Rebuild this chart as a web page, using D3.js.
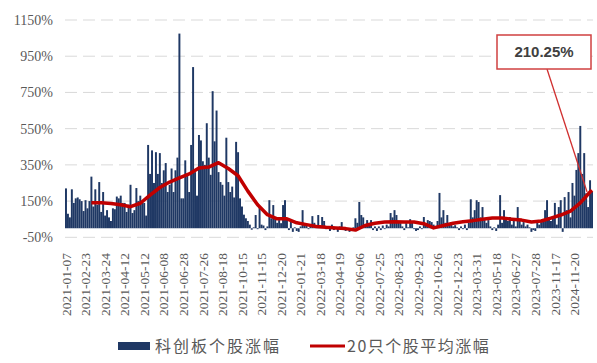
<!DOCTYPE html>
<html>
<head>
<meta charset="utf-8">
<script src="https://cdn.jsdelivr.net/npm/d3@7"></script>
<style>
  body { margin: 0; padding: 0; background: #fff; }
  svg { display: block; }
</style>
</head>
<body>
<script>
// 科创板个股涨幅（%），按上市日期排序
var stockGain = [
    220, 80, 60, 215, 140, 165, 170, 160, 150, 95,
    155, 110, 150, 285, 120, 215, 130, 255, 90, 200,
    70, 100, 60, 40, 110, 105, 175, 165, 180, 140,
    140, 90, 130, 240, 84, 100, 222, 150, 180, 140,
    140, 70, 460, 300, 430, 250, 420, 300, 415, 250,
    320, 360, 200, 240, 330, 200, 320, 390, 1075, 165,
    165, 375, 300, 200, 460, 890, 310, 180, 515, 485,
    370, 350, 580, 390, 295, 757, 480, 650, 310, 255,
    240, 180, 500, 255, 200, 230, 170, 477, 420, 165,
    120, 75, 55, 40, 20, -8, 5, 73, -5, 115,
    20, 15, -10, 10, 155, 55, 128, 55, 30, 45,
    28, 128, 155, 55, -10, 40, -20, 5, -15, -20,
    10, 100, 28, 20, -5, 10, 67, 30, 5, 73,
    15, 62, 40, -5, 10, -15, 20, -10, 5, -20,
    10, 34, -10, -15, -5, -20, -10, 5, 55, 30,
    145, 73, 60, 20, 45, 30, 45, -10, 10, -15,
    10, -10, 15, -5, 20, 10, 84, 60, 100, 73,
    40, 28, 10, -10, 28, 5, 50, 30, -5, -15,
    -10, 10, -5, 62, 20, 45, 40, 34, 20, 5,
    40, 195, 60, 100, 30, 73, 20, 34, 10, 17,
    5, -10, 10, -5, 20, -10, 30, 160, 60, 100,
    155, 145, 60, 117, 45, 30, 45, 10, -10, 5,
    -15, 20, 183, 30, 100, 62, 40, 62, 20, 45,
    10, 117, 40, 20, 34, 10, 20, 5, -20, -10,
    -15, 34, 20, 34, 50, 100, 155, 62, 40, 62,
    140, 20, 117, 155, -20, 172, 100, 200, 60, 250,
    180, 322, 415, 565, 300, 415, 193, 117, 265, 200
];

// x轴标签（每10只个股一个）
var dateLabels = [
    "2021-01-07", "2021-02-23", "2021-03-24", "2021-04-12", "2021-05-12",
    "2021-06-08", "2021-06-28", "2021-07-26", "2021-08-18", "2021-10-15",
    "2021-11-15", "2021-12-20", "2022-01-21", "2022-03-18", "2022-04-19",
    "2022-06-06", "2022-07-25", "2022-08-23", "2022-09-23", "2022-10-26",
    "2022-12-23", "2023-03-31", "2023-05-18", "2023-06-27", "2023-07-28",
    "2023-11-17", "2024-11-20"
];

// 20只个股平均涨幅：所在个股序号与数值
var avgIndex = [13, 18, 23, 28, 33, 38, 43, 48, 53, 58, 63, 68, 73, 78, 83, 88,
    93, 98, 103, 108, 113, 118, 123, 128, 133, 138, 143, 148, 153, 158, 163, 168,
    173, 178, 183, 188, 193, 198, 203, 208, 213, 218, 223, 228, 233, 238, 243, 248,
    253, 258, 263, 268, 269];
var avgGain = [141, 141, 137, 130, 119, 138, 183, 225, 255, 278, 300, 333, 338, 362, 330, 290,
    205, 130, 75, 52, 52, 30, 20, 10, 5, 2, -2, -10, 15, 28, 34, 36,
    34, 34, 25, 2, 15, 28, 36, 42, 50, 56, 56, 50, 45, 34, 40, 56,
    73, 95, 140, 200, 210.25];

var yTicks = [-50, 150, 350, 550, 750, 950, 1150];

var width = 597;
var height = 363;
var plotL = 65, plotR = 593, plotT = 20, plotB = 237.3;

var svg = d3.select("body")
    .append("svg")
    .attr("width", width)
    .attr("height", height);

var x = d3.scaleBand()
    .domain(d3.range(stockGain.length))
    .range([plotL, plotR])
    .padding(0);

var y = d3.scaleLinear()
    .domain([-50, 1150])
    .range([plotB, plotT]);

// 网格线
svg.append("g")
    .selectAll("line")
    .data(yTicks)
    .enter()
    .append("line")
    .attr("x1", plotL)
    .attr("x2", plotR)
    .attr("y1", function(d){ return y(d); })
    .attr("y2", function(d){ return y(d); })
    .style("stroke", "#d9d9d9")
    .style("stroke-width", 1)
    .style("stroke-dasharray", "12,6");

// y轴标签
svg.append("g")
    .selectAll("text")
    .data(yTicks)
    .enter()
    .append("text")
    .attr("x", 53)
    .attr("y", function(d){ return y(d); })
    .attr("dy", "0.35em")
    .attr("text-anchor", "end")
    .style("font-family", "'Liberation Serif', 'DejaVu Serif', serif")
    .style("font-size", "14px")
    .style("fill", "#595959")
    .text(function(d){ return d + "%"; });

// 柱子
svg.append("g")
    .selectAll("rect")
    .data(stockGain)
    .enter()
    .append("rect")
    .attr("x", function(_, i){ return x(i); })
    .attr("width", x.bandwidth())
    .attr("y", function(d){ return d >= 0 ? y(d) : y(0); })
    .attr("height", function(d){ return Math.abs(y(0) - y(d)); })
    .style("fill", "#1f3864");

// x轴标签
svg.append("g")
    .selectAll("text")
    .data(dateLabels)
    .enter()
    .append("text")
    .attr("transform", function(_, k){
        return "translate(" + (x(k * 10) + x.bandwidth() / 2) + ",253) rotate(-90)";
    })
    .attr("dy", "0.35em")
    .attr("text-anchor", "end")
    .style("font-family", "'Liberation Serif', 'DejaVu Serif', serif")
    .style("font-size", "13.5px")
    .style("fill", "#595959")
    .text(function(d){ return d; });

// 平均涨幅折线
var line = d3.line()
    .x(function(d){ return x(d[0]) + x.bandwidth() / 2; })
    .y(function(d){ return y(d[1]); });

var avgPts = avgIndex.map(function(idx, k){ return [idx, avgGain[k]]; });

svg.append("path")
    .datum(avgPts)
    .attr("d", line)
    .style("fill", "none")
    .style("stroke", "#c00000")
    .style("stroke-width", 3.5)
    .style("stroke-linejoin", "round");

// 标注
var last = avgPts[avgPts.length - 2];
svg.append("line")
    .attr("x1", 547)
    .attr("y1", 69)
    .attr("x2", x(last[0]) + x.bandwidth() / 2 - 3)
    .attr("y2", y(last[1]))
    .style("stroke", "#d03030")
    .style("stroke-width", 1.3);

svg.append("rect")
    .attr("x", 497)
    .attr("y", 35)
    .attr("width", 94)
    .attr("height", 34)
    .style("fill", "#fff")
    .style("stroke", "#d04040")
    .style("stroke-width", 1.5);

svg.append("text")
    .attr("x", 544)
    .attr("y", 52)
    .attr("dy", "0.35em")
    .attr("text-anchor", "middle")
    .style("font-family", "'Liberation Sans', Arial, sans-serif")
    .style("font-weight", "bold")
    .style("font-size", "15px")
    .style("fill", "#404040")
    .text(avgGain[avgGain.length - 1].toFixed(2) + "%");

// 图例
var legend = svg.append("g");
legend.append("rect")
    .attr("x", 118)
    .attr("y", 342)
    .attr("width", 32)
    .attr("height", 8)
    .style("fill", "#1f3864");
legend.append("text")
    .attr("x", 155)
    .attr("y", 346)
    .attr("dy", "0.35em")
    .style("font-family", "'Noto Sans CJK SC', sans-serif")
    .style("font-size", "16px")
    .style("letter-spacing", "2px")
    .style("fill", "#595959")
    .text("科创板个股涨幅");
legend.append("line")
    .attr("x1", 310)
    .attr("x2", 345)
    .attr("y1", 346)
    .attr("y2", 346)
    .style("stroke", "#c00000")
    .style("stroke-width", 3);
legend.append("text")
    .attr("x", 347)
    .attr("y", 346)
    .attr("dy", "0.35em")
    .style("font-family", "'Noto Sans CJK SC', sans-serif")
    .style("font-size", "16px")
    .style("letter-spacing", "1.5px")
    .style("fill", "#595959")
    .text("20只个股平均涨幅");
</script>
</body>
</html>
